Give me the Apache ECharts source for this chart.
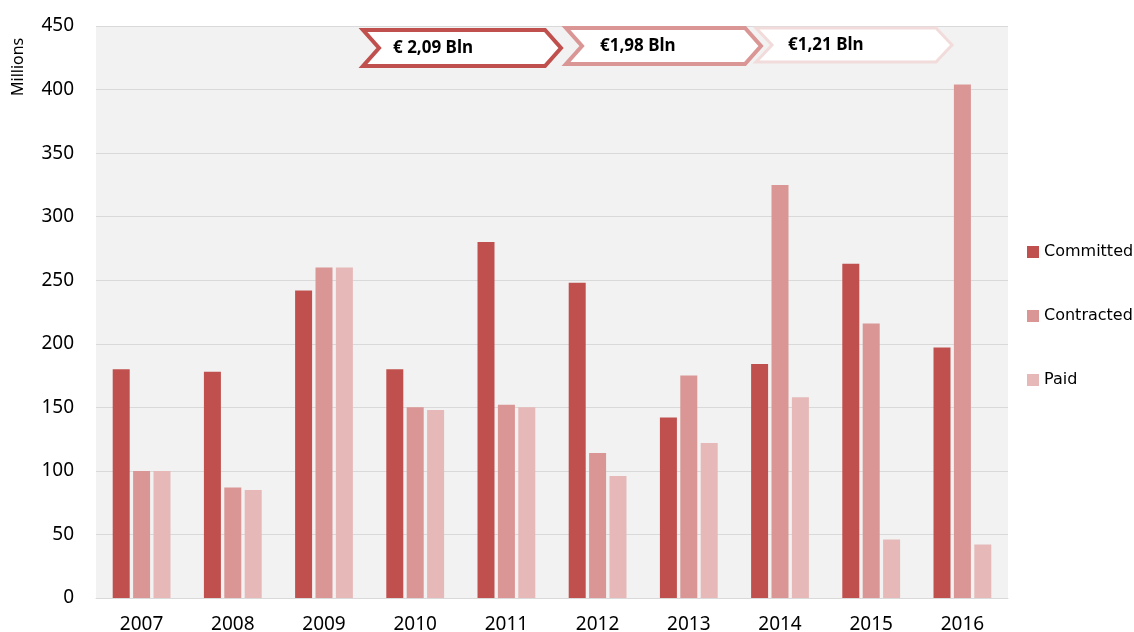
<!DOCTYPE html>
<html>
<head>
<meta charset="utf-8">
<script src="https://cdn.jsdelivr.net/npm/echarts@6/dist/echarts.min.js"></script>
<style>
  html, body { margin: 0; padding: 0; background: #fff; }
  #chart { width: 1134px; height: 632px; }
</style>
</head>
<body>
<div id="chart"></div>
<script>
// years on the x axis
const years = ['2007', '2008', '2009', '2010', '2011', '2012', '2013', '2014', '2015', '2016'];
// values in millions
const committed = [180, 178, 242, 180, 280, 248, 142, 184, 263, 197];
const contracted = [100, 87, 260, 150, 152, 114, 175, 325, 216, 404];
const paid = [100, 85, 260, 148, 150, 96, 122, 158, 46, 42];
// totals shown in the arrow banners
const totals = ['€ 2,09 Bln', '€1,98 Bln', '€1,21 Bln'];

const colors = ['#c0504d', '#da9694', '#e6b9b8'];
const font = 'Noto Sans, sans-serif';

const chart = echarts.init(document.getElementById('chart'));

// chevron banner shape
function chevron(x, y, w, h, tip, color, lw, label, tx) {
  return [{
    type: 'polygon',
    shape: {
      points: [[x, y], [x + w, y], [x + w + tip, y + h / 2], [x + w, y + h], [x, y + h], [x + tip, y + h / 2]]
    },
    style: { fill: '#fff', stroke: color, lineWidth: lw },
    z: 10
  }, {
    type: 'text',
    x: tx,
    y: y + h / 2,
    style: {
      text: label,
      font: 'bold 17px ' + font,
      fill: '#000',
      verticalAlign: 'middle'
    },
    z: 11
  }];
}

const bar = (name, data, i) => ({
  name: name,
  type: 'bar',
  data: data,
  barWidth: 17,
  barGap: '20%',
  itemStyle: { color: colors[i] },
  emphasis: { disabled: true }
});

chart.setOption({
  animation: false,
  grid: {
    left: 96, right: 126, top: 26, bottom: 34,
    outerBoundsMode: 'none',
    show: true, backgroundColor: '#f2f2f2', borderWidth: 0
  },
  legend: {
    orient: 'vertical',
    left: 1022,
    top: 239,
    itemGap: 48,
    itemWidth: 12,
    itemHeight: 12,
    icon: 'rect',
    textStyle: { fontFamily: 'DejaVu Sans', fontSize: 16, color: '#000' },
    data: ['Committed', 'Contracted', 'Paid']
  },
  xAxis: {
    type: 'category',
    data: years,
    axisLine: { lineStyle: { color: '#d9d9d9', width: 1 } },
    axisTick: { show: false },
    axisLabel: { fontFamily: font, fontSize: 19, color: '#000', margin: 17 }
  },
  yAxis: {
    type: 'value',
    min: 0,
    max: 450,
    interval: 50,
    axisLine: { show: false },
    axisTick: { show: false },
    splitLine: { lineStyle: { color: '#d9d9d9', width: 1 } },
    axisLabel: { fontFamily: font, fontSize: 19, color: '#000', margin: 22 }
  },
  graphic: [
    {
      type: 'text',
      x: 10,
      y: 96,
      rotation: Math.PI / 2,
      style: { text: 'Millions', font: '16px ' + font, fill: '#000' }
    },
    ...chevron(363, 30, 182, 36, 16, '#c0504d', 4, totals[0], 393),
    ...chevron(566, 28, 179, 36, 16, '#da9694', 4, totals[1], 600),
    ...chevron(756, 28, 180, 34, 16, '#f2dcdb', 3, totals[2], 788)
  ],
  series: [
    bar('Committed', committed, 0),
    bar('Contracted', contracted, 1),
    bar('Paid', paid, 2)
  ]
});

window.onresize = () => {
  chart.resize();
};
</script>
</body>
</html>
